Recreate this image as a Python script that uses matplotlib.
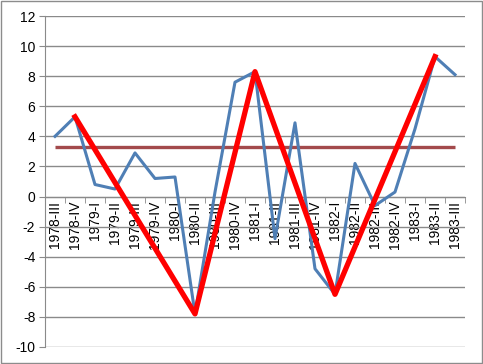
import matplotlib
matplotlib.use("Agg")
import matplotlib.pyplot as plt
import numpy as np
from matplotlib.patches import Rectangle

quarters = ["1978-III", "1978-IV", "1979-I", "1979-II", "1979-III", "1979-IV",
            "1980-I", "1980-II", "1980-III", "1980-IV", "1981-I", "1981-II",
            "1981-III", "1981-IV", "1982-I", "1982-II", "1982-III", "1982-IV",
            "1983-I", "1983-II", "1983-III"]
growth = [4.0, 5.3, 0.8, 0.5, 2.9, 1.2, 1.3, -7.8, 0.3, 7.6, 8.3, -2.8,
          4.9, -4.8, -6.5, 2.2, -0.6, 0.3, 4.5, 9.3, 8.1]
turn_quarters = ["1978-IV", "1980-II", "1981-I", "1982-I", "1983-II"]
turn_values = [5.3, -7.8, 8.3, -6.5, 9.3]
average = 3.3
y_ticks = list(range(-10, 13, 2))

plt.rcParams['font.family'] = ['Liberation Sans', 'DejaVu Sans']

fig = plt.figure(figsize=(4.83, 3.64), dpi=100)
fig.patches.append(Rectangle((0.002, 0.003), 0.995, 0.994, transform=fig.transFigure,
                             fill=False, edgecolor='#8c8c8c', linewidth=1.0))
ax = fig.add_axes([45/483, 1-347/364, (465-45)/483, (347-16)/364])

x = np.arange(len(quarters))
idx = {q: i for i, q in enumerate(quarters)}
tx = [idx[q] for q in turn_quarters]

ax.plot(x, [average]*len(x), color='#A34A4C', linewidth=2.4, zorder=3, solid_capstyle='butt')
ax.plot(x, growth, color='#4F7FB5', linewidth=2.2, zorder=4)
ax.plot(tx, turn_values, color='#FF0000', linewidth=3.8, zorder=5)

ax.set_xlim(-0.5, len(quarters)-0.5)
ax.set_ylim(-10, 12)
ax.set_yticks(y_ticks)
ax.set_yticklabels([str(v) for v in y_ticks], fontsize=10)
ax.yaxis.grid(True, color='#8a8a8a', linewidth=1.0)
ax.set_axisbelow(True)

for s in ['top', 'right']:
    ax.spines[s].set_visible(False)
ax.spines['left'].set_color('#8a8a8a')
ax.spines['bottom'].set_color('#8a8a8a')
ax.spines['bottom'].set_position(('data', 0))
ax.tick_params(axis='y', length=4, color='#8a8a8a', pad=3)

ax.set_xticks(x)
ax.set_xticklabels(quarters, rotation=90, fontsize=10, va='top')
ax.set_xticks(np.arange(-0.5, len(quarters), 1.0), minor=True)
ax.tick_params(axis='x', which='major', length=0, pad=3)
ax.tick_params(axis='x', which='minor', length=4, color='#8a8a8a')

fig.savefig("out.png", dpi=100)
